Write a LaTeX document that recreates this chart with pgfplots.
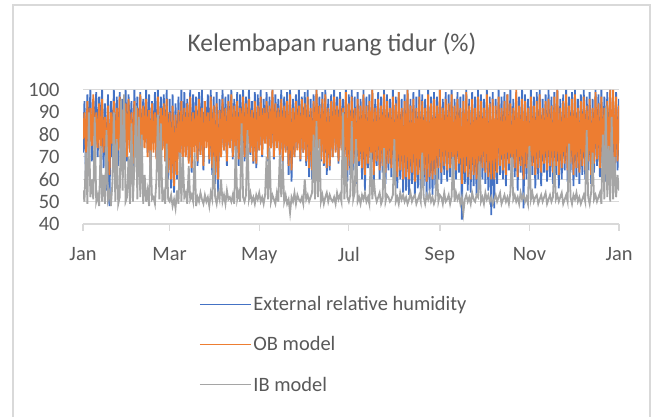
\documentclass[border=0pt]{standalone}
\usepackage{pgfplots}
\pgfplotsset{compat=1.18}
\usepackage{pgfplotstable}
\usepackage{fontspec}
\setmainfont{Carlito}
\definecolor{cblue}{HTML}{4472C4}
\definecolor{corange}{HTML}{ED7D31}
\definecolor{cgray}{HTML}{A5A5A5}
\definecolor{cgrid}{HTML}{D9D9D9}
\definecolor{ctext}{HTML}{595959}

% day-by-day values: b = External relative humidity, o = OB model, g = IB model
\pgfplotstableread{
b o g
72 78 55
95 90 50
60 72 72
98 95 49
75 70 90
100 92 52
68 75 60
96 98 51
80 68 88
99 90 50
70 74 53
97 94 48
78 70 75
100 96 50
65 72 62
94 88 49
55 66 82
98 93 51
48 62 54
95 90 48
70 76 58
100 95 90
66 70 50
97 92 78
66 73 49
99 97 52
75 68 96
96 91 55
72 74 98
100 94 50
68 70 52
98 96 70
77 72 49
95 90 85
62 67 50
100 95 66
74 75 93
97 92 51
70 70 88
99 98 52
66 68 80
96 93 49
78 74 62
100 96 50
72 70 55
98 91 48
64 66 73
95 94 51
76 72 52
99 90 49
70 69 60
100 97 89
62 65 51
97 92 85
74 73 50
98 94 54
68 68 49
100 96 76
60 63 51
96 90 50
56 60 53
98 93 48
54 57 51
94 89 47
60 62 55
97 91 49
70 68 72
100 95 50
65 66 70
99 92 52
72 70 54
96 94 49
68 67 66
100 97 51
63 65 53
98 90 50
75 72 72
97 93 48
66 68 52
99 96 50
71 71 54
100 92 51
64 66 49
95 95 53
78 74 50
98 90 52
67 69 48
100 97 54
62 65 51
97 93 70
58 62 52
99 94 49
54 60 54
96 91 51
70 70 60
100 96 50
73 73 53
97 92 49
66 68 55
98 95 51
75 74 52
100 98 50
69 70 53
96 93 49
72 72 75
99 95 51
66 69 54
98 92 50
74 75 85
100 97 52
68 70 50
97 94 53
76 74 82
100 96 51
71 72 54
95 91 50
67 68 52
99 95 49
65 67 53
98 93 51
73 73 54
100 97 50
70 71 52
96 92 49
78 76 53
99 95 70
68 69 51
97 93 74
74 74 50
100 100 53
69 70 51
98 94 49
75 74 54
96 92 50
71 71 71
100 96 52
66 68 68
97 93 50
73 72 53
99 95 49
62 66 51
100 98 45
59 64 52
96 92 50
70 70 54
98 95 49
74 73 53
100 93 51
68 69 50
97 96 52
72 72 49
99 94 60
66 68 51
100 97 53
61 65 50
96 92 52
60 64 54
98 95 80
70 70 51
100 100 86
75 74 52
97 93 78
68 69 50
99 96 53
66 67 49
100 98 52
62 65 54
96 92 50
64 66 53
98 95 51
70 70 50
100 97 52
73 72 49
97 93 54
67 68 51
99 96 53
74 73 50
96 92 90
69 69 51
100 99 70
59 64 52
98 94 50
62 66 53
100 97 86
64 67 51
97 92 54
58 63 78
99 96 50
66 68 52
96 93 49
60 65 53
100 98 51
55 62 54
97 93 50
65 67 52
98 95 49
62 66 72
100 100 51
57 62 60
96 92 53
66 68 50
99 96 52
60 64 54
97 93 49
63 66 51
100 98 74
58 63 50
98 95 53
64 67 52
96 92 50
61 65 51
100 97 53
59 63 78
97 94 50
56 61 52
99 99 49
60 64 54
96 92 51
54 60 53
98 95 50
55 61 52
100 100 49
53 60 51
96 93 54
58 63 50
99 96 52
52 59 53
97 92 49
56 62 51
100 97 53
54 60 50
98 95 72
57 62 52
96 92 49
52 59 53
100 98 51
55 61 54
97 94 50
53 60 52
99 96 49
56 62 51
97 93 65
60 65 50
100 100 53
58 63 52
96 92 49
62 66 54
99 96 50
59 64 51
98 94 53
61 65 49
100 98 52
57 62 70
96 93 50
60 64 54
99 96 51
63 67 53
97 92 49
42 58 52
98 95 45
58 63 51
100 99 53
55 61 50
96 93 52
54 60 49
99 96 54
57 62 51
97 92 50
53 60 53
100 97 52
56 62 68
98 95 50
60 65 52
96 92 49
58 63 54
100 98 51
55 61 53
97 94 50
44 60 52
99 96 49
47 60 51
96 93 53
58 63 50
100 97 52
62 66 54
97 92 49
60 64 51
99 95 53
57 62 50
98 98 52
64 67 49
100 94 54
58 63 70
96 92 51
61 65 53
99 100 50
55 61 52
97 93 49
63 66 54
100 96 51
47 60 53
98 95 50
60 65 52
96 92 49
58 63 75
100 97 51
62 66 54
97 93 50
56 62 52
99 95 53
60 65 49
100 98 51
57 63 53
96 92 50
63 67 52
98 95 54
59 64 49
100 96 51
61 66 53
97 93 50
58 63 52
99 97 68
62 66 51
100 100 53
56 62 50
96 92 52
60 65 54
98 95 49
64 67 51
100 98 53
59 64 50
97 93 76
63 67 52
99 96 49
57 62 53
100 98 51
61 65 54
96 92 50
58 63 52
98 95 49
62 66 51
100 97 53
60 64 50
97 93 82
64 68 52
99 96 49
58 62 54
96 92 72
63 67 51
100 99 53
66 69 50
98 94 52
61 65 54
100 97 49
62 66 80
97 92 51
59 63 93
99 95 52
60 64 75
100 100 50
63 67 88
97 100 51
61 65 70
99 97 52
64 68 62
96 93 55
}\rhdata

\begin{document}
\begin{tikzpicture}
\useasboundingbox (0,0) rectangle (655bp,417bp);
\draw[cgrid, line width=1.3bp] (13bp,-10bp) -- (13bp,412bp) -- (650bp,412bp) -- (650bp,-10bp);
\node[text=ctext, font=\fontsize{25.5}{30}\selectfont] at (332bp,373bp) {Kelembapan ruang tidur (\%)};
\begin{axis}[
  at={(83bp,193bp)}, anchor=south west,
  scale only axis, width=536bp, height=134bp,
  xmin=0, xmax=365, ymin=40, ymax=100,
  xtick={0,59,120,181,243,304,365},
  xticklabels={Jan,Mar,May,Jul,Sep,Nov,Jan},
  ytick={40,50,...,100},
  separate axis lines,
  axis x line*=bottom, axis y line*=left,
  y axis line style={draw=none},
  x axis line style={draw=cgrid, line width=1.3bp, -},
  ymajorgrids, grid style={cgrid, line width=1bp},
  xtick style={draw=cgrid, line width=1.3bp},
  ytick style={draw=none},
  tick align=outside, major tick length=7bp,
  ticklabel style={font=\fontsize{20.5}{24}\selectfont, text=ctext},
  /pgf/number format/assume math mode=true,
  yticklabel style={xshift=-13bp},
  xticklabel style={yshift=-13bp},
  legend style={draw=none, at={(0.2108,-0.51)}, anchor=north west,
    font=\fontsize{20.5}{24}\selectfont, text=ctext,
    row sep=20.5bp},
  legend cell align=left,
  legend image code/.code={\draw[#1, line width=1.3bp] (0bp,0bp) -- (51bp,0bp);},
]
\addplot[color=cblue, line width=1.8bp] table[x expr=\coordindex, y=b] {\rhdata};
\addlegendentry{External relative humidity}
\addplot[color=corange, line width=1.8bp] table[x expr=\coordindex, y=o] {\rhdata};
\addlegendentry{OB model}
\addplot[color=cgray, line width=1.8bp] table[x expr=\coordindex, y=g] {\rhdata};
\addlegendentry{IB model}
\end{axis}
\end{tikzpicture}
\end{document}
